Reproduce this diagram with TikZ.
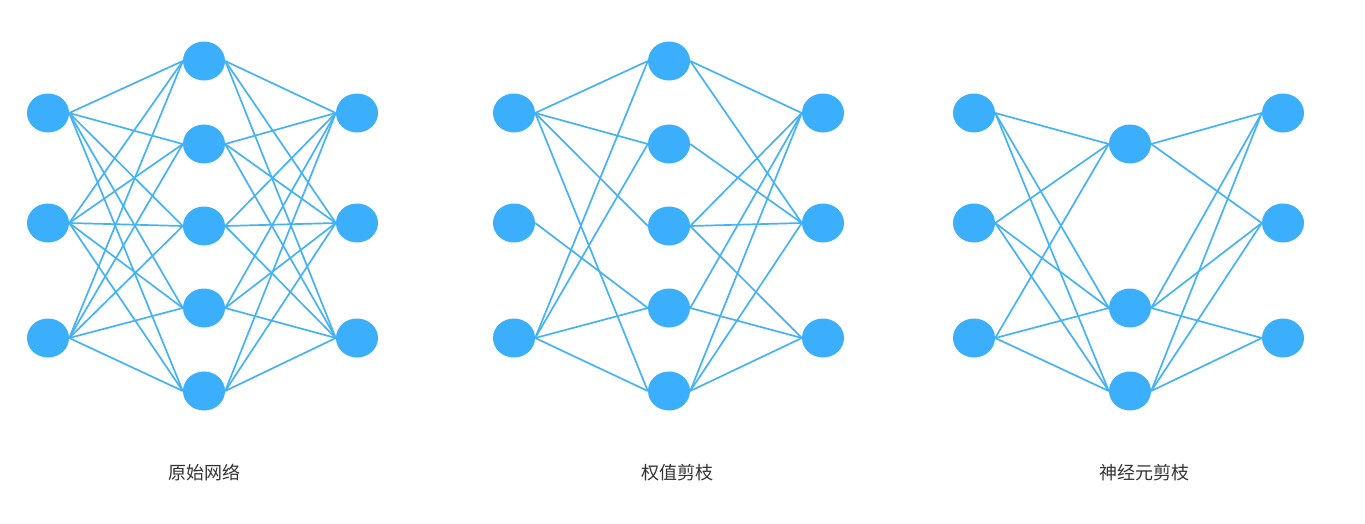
\documentclass[tikz,border=0pt]{standalone}
\usepackage{fontspec}
\newfontfamily\cjk{Noto Sans CJK SC}
\usetikzlibrary{shapes.geometric,backgrounds}
\definecolor{nodeblue}{RGB}{59,174,252}
\definecolor{edgeblue}{RGB}{70,178,246}
\definecolor{labelgray}{RGB}{51,51,51}
\begin{document}
\begin{tikzpicture}[x=1pt,y=-1pt,
  neuron/.style={ellipse,fill=nodeblue,draw=none,minimum width=42pt,minimum height=39pt,inner sep=0pt},
  conn/.style={draw=edgeblue,line width=1.7pt},
  caption/.style={font=\cjk\fontsize{18}{20}\selectfont,text=labelgray,inner sep=0pt}]
\path[use as bounding box] (0,0) rectangle (1365,523);
% nodes of the three networks
\foreach \net/\ix/\ox in {A/48/357, B/514/823, C/974/1283} {
  \foreach \y [count=\i] in {113,223,338} {
    \node[neuron] (\net-I\i) at (\ix,\y) {};
    \node[neuron] (\net-O\i) at (\ox,\y) {};
  }
}
\foreach \y [count=\i] in {61,144,226,308,391} {
  \node[neuron] (A-H\i) at (204,\y) {};
  \node[neuron] (B-H\i) at (669,\y) {};
}
\node[neuron] (C-H2) at (1130,144) {};
\node[neuron] (C-H4) at (1130,308) {};
\node[neuron] (C-H5) at (1130,391) {};
% edges
\begin{scope}[on background layer]
  % original network: fully connected
  \foreach \i in {1,2,3} {
    \foreach \h in {1,...,5} {
      \draw[conn] (A-I\i.east) -- (A-H\h.west);
      \draw[conn] (A-H\h.east) -- (A-O\i.west);
    }
  }
  % weight pruning
  \foreach \a/\b in {I1/H1, I1/H2, I1/H3, I1/H5, I2/H4, I3/H1, I3/H2, I3/H4, I3/H5,
                     H1/O1, H1/O2, H2/O2, H3/O1, H3/O2, H3/O3, H4/O1, H4/O3, H5/O1, H5/O2, H5/O3} {
    \draw[conn] (B-\a.east) -- (B-\b.west);
  }
  % neuron pruning
  \foreach \i in {1,2,3} {
    \foreach \h in {2,4,5} {
      \draw[conn] (C-I\i.east) -- (C-H\h.west);
    }
  }
  \foreach \a/\b in {H2/O1, H2/O2, H4/O1, H4/O2, H4/O3, H5/O1, H5/O2, H5/O3} {
    \draw[conn] (C-\a.east) -- (C-\b.west);
  }
\end{scope}
% captions
\node[caption] (capA) at (204.5,473) {原始网络};
\node[caption] (capB) at (677.5,473) {权值剪枝};
\node[caption] (capC) at (1144,473) {神经元剪枝};
\end{tikzpicture}
\end{document}
